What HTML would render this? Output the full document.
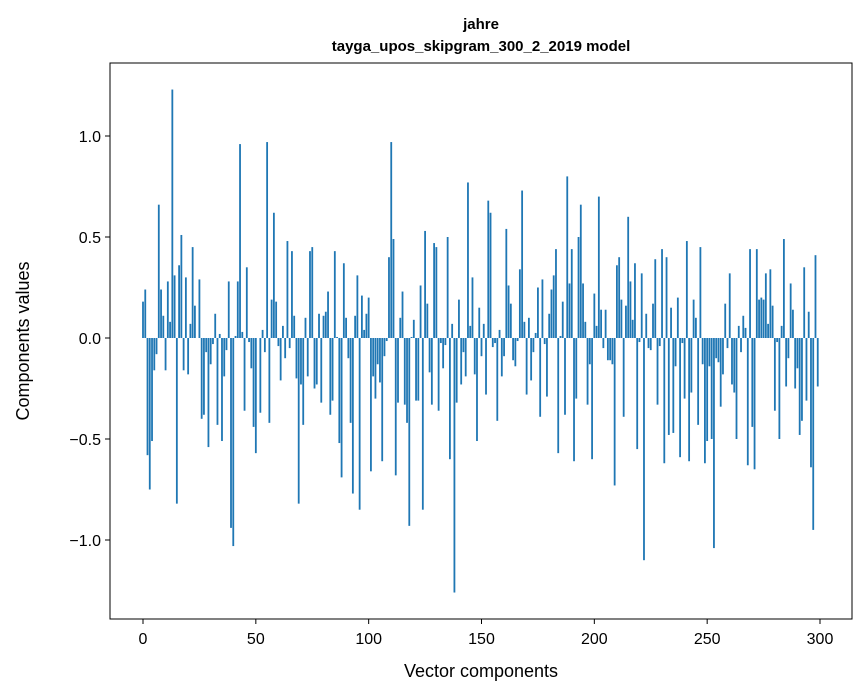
<!DOCTYPE html>
<html><head><meta charset="utf-8"><style>
body{margin:0;background:#fff;}
svg{display:block;font-family:"Liberation Sans",sans-serif;}
</style></head><body>
<svg id="chart" width="867" height="696" viewBox="0 0 867 696">
<rect width="867" height="696" fill="#fff"/>
<text x="481" y="29" text-anchor="middle" font-size="15" font-weight="bold">jahre</text>
<text x="481" y="51" text-anchor="middle" font-size="15" font-weight="bold">tayga_upos_skipgram_300_2_2019 model</text>
<g id="bars"></g>
<g id="axes"></g>
<rect x="110" y="63" width="742" height="556" fill="none" stroke="#000" stroke-width="1"/>
<text x="481" y="677" text-anchor="middle" font-size="18">Vector components</text>
<text transform="translate(29,341) rotate(-90)" text-anchor="middle" font-size="18">Components values</text>
</svg>
<script>
const values = [0.18,0.24,-0.58,-0.75,-0.51,-0.16,-0.08,0.66,0.24,0.11,-0.16,0.28,0.08,1.23,0.31,-0.82,0.36,0.51,-0.16,0.30,-0.18,0.07,0.45,0.16,0.0,0.29,-0.40,-0.38,-0.07,-0.54,-0.13,-0.03,0.12,-0.43,0.02,-0.51,-0.19,-0.06,0.28,-0.94,-1.03,0.01,0.28,0.96,0.03,-0.36,0.35,-0.02,-0.15,-0.44,
-0.57,0.0,-0.37,0.04,-0.07,0.97,-0.42,0.19,0.62,0.18,-0.04,-0.21,0.06,-0.10,0.48,-0.05,0.43,0.11,-0.20,-0.82,-0.23,-0.43,0.10,-0.19,0.43,0.45,-0.25,-0.23,0.12,-0.32,0.11,0.13,0.23,-0.38,-0.31,0.43,0.005,-0.52,-0.69,0.37,0.10,-0.10,-0.42,-0.77,0.11,0.31,-0.85,0.21,0.04,0.12,
0.20,-0.66,-0.19,-0.30,-0.13,-0.22,-0.61,-0.09,-0.015,0.40,0.97,0.49,-0.68,-0.32,0.10,0.23,-0.33,-0.42,-0.93,0.005,0.09,-0.31,-0.31,0.26,-0.85,0.53,0.17,-0.17,-0.33,0.47,0.45,-0.36,-0.025,-0.15,-0.035,0.50,-0.60,0.07,-1.26,-0.32,0.19,-0.23,-0.07,-0.19,0.77,0.06,0.30,-0.18,-0.51,0.15,
-0.09,0.07,-0.28,0.68,0.62,-0.045,-0.025,-0.41,0.04,-0.19,-0.09,0.54,0.26,0.17,-0.11,-0.14,-0.015,0.34,0.73,0.08,-0.28,0.10,-0.21,-0.07,0.025,0.25,-0.39,0.29,-0.03,-0.29,0.12,0.24,0.31,0.44,-0.57,0.01,0.18,-0.38,0.80,0.27,0.44,-0.61,-0.30,0.50,0.66,0.27,0.08,-0.33,-0.13,-0.60,
0.22,0.06,0.70,0.14,-0.05,0.14,-0.11,-0.11,-0.13,-0.73,0.36,0.40,0.19,-0.39,0.16,0.60,0.28,0.09,0.37,-0.55,-0.02,0.32,-1.10,0.12,-0.05,-0.06,0.17,0.39,-0.33,-0.04,0.44,-0.62,0.40,-0.48,0.15,-0.47,-0.14,0.20,-0.59,-0.025,-0.30,0.48,-0.61,-0.27,0.19,0.10,-0.43,0.45,-0.13,-0.62,
-0.51,-0.14,-0.50,-1.04,-0.10,-0.12,-0.34,-0.18,0.17,-0.05,0.32,-0.23,-0.27,-0.50,0.06,-0.07,0.11,0.05,-0.63,0.44,-0.44,-0.65,0.44,0.19,0.20,0.19,0.32,0.07,0.34,0.16,-0.36,-0.02,-0.50,0.06,0.49,-0.24,-0.10,0.27,0.14,-0.25,-0.15,-0.48,-0.41,0.35,-0.31,0.13,-0.64,-0.95,0.41,-0.24];
const xTicks = [0,50,100,150,200,250,300];
const yTicks = [-1.0,-0.5,0.0,0.5,1.0];
const yTickLabels = ["\u22121.0","\u22120.5","0.0","0.5","1.0"];

const NS = "http://www.w3.org/2000/svg";
function xs(v){ return 143 + v*(677/300); }
function ys(v){ return 338 - v*202; }
const bars = document.getElementById('bars');
const bw = 0.8*(677/300);
values.forEach((v,i)=>{
  const r = document.createElementNS(NS,'rect');
  
  
  const y0 = Math.min(ys(v), ys(0));
  r.setAttribute('x', xs(i)-bw/2);
  r.setAttribute('y', y0);
  r.setAttribute('width', bw);
  r.setAttribute('height', Math.abs(ys(v)-ys(0)));
  r.setAttribute('fill', '#1f77b4');
  bars.appendChild(r);
});
const axes = document.getElementById('axes');
xTicks.forEach(t=>{
  const l = document.createElementNS(NS,'line');
  
  
  l.setAttribute('x1', xs(t)); l.setAttribute('x2', xs(t));
  l.setAttribute('y1', 619); l.setAttribute('y2', 624);
  l.setAttribute('stroke', '#000');
  axes.appendChild(l);
  const tx = document.createElementNS(NS,'text');
  
  
  tx.setAttribute('x', xs(t)); tx.setAttribute('y', 644);
  tx.setAttribute('text-anchor', 'middle');
  tx.setAttribute('font-size', '16');
  tx.textContent = String(t);
  axes.appendChild(tx);
});
yTicks.forEach((t,k)=>{
  const l = document.createElementNS(NS,'line');
  
  
  l.setAttribute('x1', 105); l.setAttribute('x2', 110);
  l.setAttribute('y1', ys(t)); l.setAttribute('y2', ys(t));
  l.setAttribute('stroke', '#000');
  axes.appendChild(l);
  const tx = document.createElementNS(NS,'text');
  
  
  tx.setAttribute('x', 101); tx.setAttribute('y', ys(t)+6);
  tx.setAttribute('text-anchor', 'end');
  tx.setAttribute('font-size', '16');
  tx.textContent = yTickLabels[k];
  axes.appendChild(tx);
});
</script>
</body></html>
